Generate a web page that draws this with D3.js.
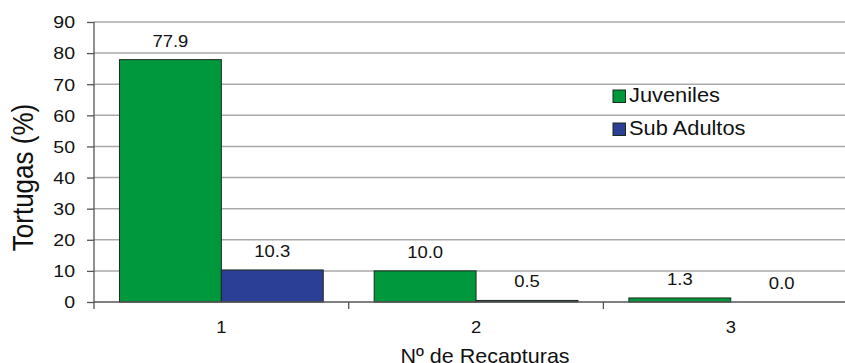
<!DOCTYPE html>
<html>
<head>
<meta charset="utf-8">
<script src="https://cdn.jsdelivr.net/npm/d3@7"></script>
<style>
  html, body { margin: 0; padding: 0; background: #fff; }
  svg { display: block; font-family: "Liberation Sans", Arial, sans-serif; }
</style>
</head>
<body>
<svg id="chart" width="845" height="363"></svg>
<script>
// Recapture counts and share of turtles (%) per age class
const categories = ["1", "2", "3"];
const juveniles = [77.9, 10.0, 1.3];
const subAdultos = [10.3, 0.5, 0.0];
const seriesNames = ["Juveniles", "Sub Adultos"];
const seriesColors = ["#00983d", "#2b3f97"];
const yTicks = [0, 10, 20, 30, 40, 50, 60, 70, 80, 90];

const series = [juveniles, subAdultos];
const svg = d3.select("#chart");

const plotLeft = 94, plotTop = 22, plotBottom = 302;
const catStep = 254.7;
const plotRight = plotLeft + catStep * categories.length;

const y = d3.scaleLinear().domain([0, 90]).range([plotBottom, plotTop]);
const x0 = d3.scaleBand().domain(categories).range([plotLeft, plotRight]).paddingInner(0).paddingOuter(0);
const x1 = d3.scaleBand().domain(seriesNames).range([0, x0.bandwidth()]).paddingInner(0).paddingOuter(0.25);

// horizontal gridlines
svg.append("g")
  .selectAll("line")
  .data(yTicks.filter(d => d > 0))
  .join("line")
  .attr("x1", plotLeft).attr("x2", plotRight)
  .attr("y1", d => y(d)).attr("y2", d => y(d))
  .attr("stroke", "#a9a9a9").attr("stroke-width", 1.5);

// bars
const groups = svg.append("g")
  .selectAll("g")
  .data(categories)
  .join("g")
  .attr("transform", d => `translate(${x0(d)},0)`);

groups.selectAll("rect")
  .data((c, i) => seriesNames.map((s, j) => ({ s, j, v: series[j][i] })))
  .join("rect")
  .attr("x", d => x1(d.s))
  .attr("width", x1.bandwidth())
  .attr("y", d => y(d.v))
  .attr("height", d => y(0) - y(d.v))
  .attr("fill", d => seriesColors[d.j])
  .attr("stroke", d => d.v > 0 ? "#1c2a1c" : "none")
  .attr("stroke-width", 1);

// value labels
groups.selectAll("text")
  .data((c, i) => seriesNames.map((s, j) => ({ s, j, v: series[j][i] })))
  .join("text")
  .attr("transform", d => `translate(${x1(d.s) + x1.bandwidth() / 2},${y(d.v) - 13}) scale(1.12,1)`)
  .attr("text-anchor", "middle")
  .attr("font-size", 16.5)
  .attr("fill", "#111")
  .text(d => d3.format(".1f")(d.v));

// y axis
const yAxis = d3.axisLeft(y).tickValues(yTicks).tickSize(7).tickSizeOuter(0).tickFormat(d3.format("d"));
const yg = svg.append("g").attr("transform", `translate(${plotLeft},0)`).call(yAxis);
yg.select(".domain").remove();
yg.selectAll(".tick line").attr("stroke", "#555").attr("stroke-width", 1.3);
yg.selectAll(".tick text")
  .attr("x", null).attr("dy", null)
  .attr("text-anchor", "end")
  .attr("font-size", 16)
  .attr("fill", "#111")
  .attr("font-family", "Liberation Sans, Arial, sans-serif")
  .attr("transform", "translate(-19,5.8) scale(1.22,1)");
svg.append("line")
  .attr("x1", plotLeft).attr("x2", plotLeft)
  .attr("y1", plotTop).attr("y2", plotBottom + 7)
  .attr("stroke", "#555").attr("stroke-width", 1.3);

// x axis
svg.append("line")
  .attr("x1", plotLeft).attr("x2", plotRight)
  .attr("y1", plotBottom).attr("y2", plotBottom)
  .attr("stroke", "#555").attr("stroke-width", 1.3);
svg.append("g")
  .selectAll("line")
  .data(categories.slice(1))
  .join("line")
  .attr("x1", d => x0(d)).attr("x2", d => x0(d))
  .attr("y1", plotBottom).attr("y2", plotBottom + 7)
  .attr("stroke", "#555").attr("stroke-width", 1.3);
svg.append("g")
  .selectAll("text")
  .data(categories)
  .join("text")
  .attr("transform", d => `translate(${x0(d) + x0.bandwidth() / 2},333) scale(1.15,1)`)
  .attr("text-anchor", "middle")
  .attr("font-size", 16)
  .attr("fill", "#111")
  .text(d => d);

// axis titles
svg.append("text")
  .attr("transform", "translate(485,363) scale(1.05,1)")
  .attr("text-anchor", "middle")
  .attr("font-size", 20.5)
  .attr("fill", "#111")
  .text("Nº de Recapturas");
svg.append("text")
  .attr("transform", "translate(33,177.5) scale(1.15,1) rotate(-90)")
  .attr("text-anchor", "middle")
  .attr("font-size", 26)
  .attr("fill", "#111")
  .text("Tortugas (%)");

// legend
const legend = svg.append("g")
  .selectAll("g")
  .data(seriesNames)
  .join("g")
  .attr("transform", (d, i) => `translate(613,${90 + i * 33})`);
legend.append("rect")
  .attr("width", 12.5).attr("height", 12.5)
  .attr("fill", (d, i) => seriesColors[i])
  .attr("stroke", "#1c2a1c").attr("stroke-width", 1);
legend.append("text")
  .attr("transform", "translate(16,12) scale(1.12,1)")
  .attr("font-size", 19.5)
  .attr("fill", "#111")
  .text(d => d);
</script>
</body>
</html>
